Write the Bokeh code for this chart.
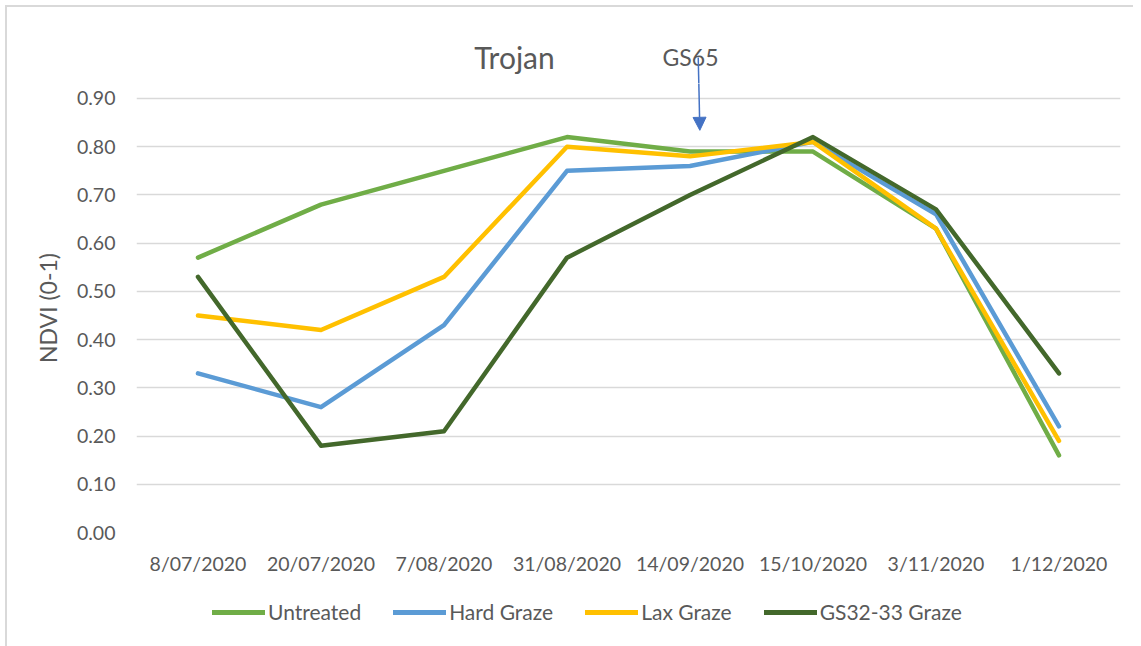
from bokeh.plotting import figure
from bokeh.layouts import column
from bokeh.models import (ColumnDataSource, Legend, LegendItem, Label, Arrow,
                          NormalHead, FixedTicker, NumeralTickFormatter)
from bokeh.embed import file_html
from bokeh.resources import INLINE

dates = ["8/07/2020", "20/07/2020", "7/08/2020", "31/08/2020",
         "14/09/2020", "15/10/2020", "3/11/2020", "1/12/2020"]
untreated = [0.57, 0.68, 0.75, 0.82, 0.79, 0.79, 0.63, 0.16]
hard_graze = [0.33, 0.26, 0.43, 0.75, 0.76, 0.81, 0.66, 0.22]
lax_graze = [0.45, 0.42, 0.53, 0.80, 0.78, 0.81, 0.63, 0.19]
gs32_33_graze = [0.53, 0.18, 0.21, 0.57, 0.70, 0.82, 0.67, 0.33]
y_ticks = [0.0, 0.1, 0.2, 0.3, 0.4, 0.5, 0.6, 0.7, 0.8, 0.9]

series = [
    ("Untreated", untreated, "#70ad47"),
    ("Hard Graze", hard_graze, "#5b9bd5"),
    ("Lax Graze", lax_graze, "#ffc000"),
    ("GS32-33 Graze", gs32_33_graze, "#43682b"),
]

FONT = "Lato"
TXT = "#595959"
ARROW = "#4472c4"
W_LEFT, W_FRAME, W_RIGHT = 129, 984, 13
WIDTH = W_LEFT + W_FRAME + W_RIGHT
Y_SPLIT = 0.9311   # value at the seam between the title strip and the chart


def bare(fig):
    fig.outline_line_color = None
    fig.background_fill_color = "white"
    fig.border_fill_color = "white"
    fig.xgrid.grid_line_color = None
    fig.ygrid.grid_line_color = None


# ---- title strip (same x scale as the chart, y continues above the chart) ----
top = figure(x_range=dates, y_range=(Y_SPLIT, 1.0887), width=WIDTH, height=76,
             min_border_left=W_LEFT, min_border_right=W_RIGHT,
             min_border_top=0, min_border_bottom=0,
             x_axis_location=None, y_axis_location=None,
             output_backend="svg", toolbar_location=None)
bare(top)
top.add_layout(Label(x=3.073, y=0.987, text="Trojan", text_align="center",
                     text_baseline="alphabetic", text_font=FONT,
                     text_font_size="30px", text_color=TXT))
top.add_layout(Label(x=4.504, y=0.987, text="GS65", text_align="center",
                     text_baseline="alphabetic", text_font=FONT,
                     text_font_size="23px", text_color=TXT))
top.add_layout(Arrow(x_start=4.567, y_start=0.985, x_end=4.5716, y_end=Y_SPLIT,
                     line_color=ARROW, line_width=1.5, end=None))

# ---- main chart ----
p = figure(x_range=top.x_range, y_range=(0, Y_SPLIT),
           frame_width=W_FRAME, frame_height=449,
           min_border_left=W_LEFT, min_border_right=W_RIGHT,
           min_border_top=0, min_border_bottom=45,
           output_backend="svg", toolbar_location=None)
bare(p)

p.yaxis.ticker = FixedTicker(ticks=y_ticks)
p.yaxis.formatter = NumeralTickFormatter(format="0.00")
for ax in (p.xaxis[0], p.yaxis[0]):
    ax.axis_line_color = None
    ax.major_tick_line_color = None
    ax.minor_tick_line_color = None
    ax.major_tick_out = 0
    ax.major_tick_in = 0
    ax.minor_tick_out = 0
    ax.minor_tick_in = 0
    ax.major_label_text_font = FONT
    ax.major_label_text_font_size = "19.5px"
    ax.major_label_text_color = TXT
p.yaxis.major_label_standoff = 21
p.xaxis.major_label_standoff = 19
p.yaxis.axis_label = "NDVI (0-1)"
p.yaxis.axis_label_text_font = FONT
p.yaxis.axis_label_text_font_size = "23px"
p.yaxis.axis_label_text_font_style = "normal"
p.yaxis.axis_label_text_color = TXT
p.yaxis.axis_label_standoff = 12
p.ygrid.grid_line_color = "#d9d9d9"
p.ygrid.grid_line_width = 1.3

for name, vals, color in series:
    src = ColumnDataSource(dict(x=dates, y=vals))
    p.line("x", "y", source=src, line_color=color, line_width=4.5,
           line_cap="round", line_join="round")

p.add_layout(Arrow(x_start=4.5716, y_start=Y_SPLIT + 0.002, x_end=4.58,
                   y_end=0.834, line_color=ARROW, line_width=1.5,
                   end=NormalHead(size=13, fill_color=ARROW,
                                  line_color=ARROW)))

# ---- legend strip (series drawn out of view; only their legend shows) ----
leg = figure(x_range=top.x_range, y_range=(2, 3), width=WIDTH, height=69,
             min_border=0, x_axis_location=None, y_axis_location=None,
             output_backend="svg", toolbar_location=None)
bare(leg)
items = []
for name, vals, color in series:
    src = ColumnDataSource(dict(x=dates, y=vals))
    r = leg.line("x", "y", source=src, line_color=color, line_width=5,
                 line_cap="round")
    items.append(LegendItem(label=name, renderers=[r]))
legend = Legend(items=items, orientation="horizontal", location=(76, 22),
                padding=0, margin=0, spacing=32, glyph_width=53,
                glyph_height=20, label_height=20, label_standoff=3,
                border_line_color=None, background_fill_alpha=0,
                label_text_font=FONT, label_text_font_size="21px",
                label_text_color=TXT)
leg.add_layout(legend)

layout = column(top, p, leg, spacing=0,
                styles={"border-top": "2px solid #d9d9d9",
                        "border-left": "2px solid #d9d9d9",
                        "margin-left": "5px", "margin-top": "5px"})

open("out.html", "w").write(file_html(layout, INLINE))
